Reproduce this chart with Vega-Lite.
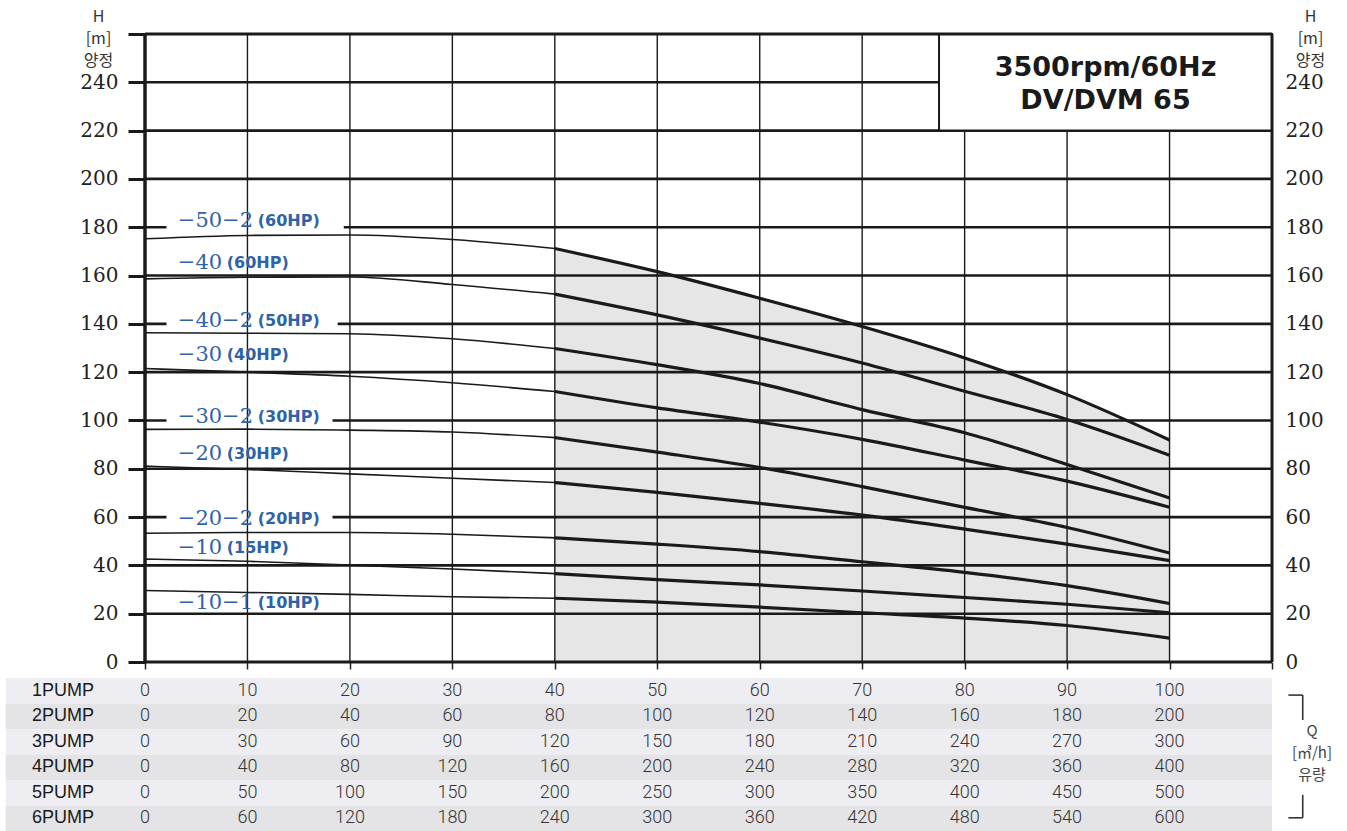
{
  "$schema": "https://vega.github.io/schema/vega-lite/v6.json",
  "width": 1127,
  "height": 628,
  "autosize": {"type": "none"},
  "padding": {"left": 145, "top": 34, "right": 75, "bottom": 169},
  "background": "white",
  "config": {
    "view": {"stroke": null},
    "axis": {"grid": false, "domain": false}
  },
  "datasets": {
    "curves": [
      {"model": "50-2", "q": 0, "h": 175.2}, {"model": "50-2", "q": 10, "h": 176.6}, {"model": "50-2", "q": 20, "h": 176.8}, {"model": "50-2", "q": 30, "h": 174.9}, {"model": "50-2", "q": 40, "h": 171.2}, {"model": "50-2", "q": 50, "h": 161.6}, {"model": "50-2", "q": 60, "h": 150.6}, {"model": "50-2", "q": 70, "h": 138.9}, {"model": "50-2", "q": 80, "h": 125.9}, {"model": "50-2", "q": 90, "h": 110.7}, {"model": "50-2", "q": 100, "h": 91.9},
      {"model": "40", "q": 0, "h": 158.6}, {"model": "40", "q": 10, "h": 159.3}, {"model": "40", "q": 20, "h": 159.4}, {"model": "40", "q": 30, "h": 156.3}, {"model": "40", "q": 40, "h": 152.3}, {"model": "40", "q": 50, "h": 143.7}, {"model": "40", "q": 60, "h": 134.1}, {"model": "40", "q": 70, "h": 123.8}, {"model": "40", "q": 80, "h": 112.1}, {"model": "40", "q": 90, "h": 100.4}, {"model": "40", "q": 100, "h": 85.6},
      {"model": "40-2", "q": 0, "h": 136.3}, {"model": "40-2", "q": 10, "h": 136.1}, {"model": "40-2", "q": 20, "h": 135.9}, {"model": "40-2", "q": 30, "h": 133.8}, {"model": "40-2", "q": 40, "h": 129.8}, {"model": "40-2", "q": 50, "h": 123.1}, {"model": "40-2", "q": 60, "h": 115.3}, {"model": "40-2", "q": 70, "h": 104.5}, {"model": "40-2", "q": 80, "h": 94.9}, {"model": "40-2", "q": 90, "h": 81.8}, {"model": "40-2", "q": 100, "h": 67.9},
      {"model": "30", "q": 0, "h": 121.5}, {"model": "30", "q": 10, "h": 120.0}, {"model": "30", "q": 20, "h": 118.3}, {"model": "30", "q": 30, "h": 115.6}, {"model": "30", "q": 40, "h": 112.0}, {"model": "30", "q": 50, "h": 105.2}, {"model": "30", "q": 60, "h": 99.3}, {"model": "30", "q": 70, "h": 92.2}, {"model": "30", "q": 80, "h": 83.6}, {"model": "30", "q": 90, "h": 74.9}, {"model": "30", "q": 100, "h": 64.1},
      {"model": "30-2", "q": 0, "h": 96.3}, {"model": "30-2", "q": 10, "h": 96.4}, {"model": "30-2", "q": 20, "h": 96.0}, {"model": "30-2", "q": 30, "h": 95.2}, {"model": "30-2", "q": 40, "h": 92.9}, {"model": "30-2", "q": 50, "h": 86.9}, {"model": "30-2", "q": 60, "h": 80.5}, {"model": "30-2", "q": 70, "h": 72.6}, {"model": "30-2", "q": 80, "h": 64.0}, {"model": "30-2", "q": 90, "h": 55.7}, {"model": "30-2", "q": 100, "h": 45.1},
      {"model": "20", "q": 0, "h": 81.1}, {"model": "20", "q": 10, "h": 79.7}, {"model": "20", "q": 20, "h": 77.9}, {"model": "20", "q": 30, "h": 76.1}, {"model": "20", "q": 40, "h": 74.3}, {"model": "20", "q": 50, "h": 70.2}, {"model": "20", "q": 60, "h": 65.7}, {"model": "20", "q": 70, "h": 60.8}, {"model": "20", "q": 80, "h": 55.0}, {"model": "20", "q": 90, "h": 48.8}, {"model": "20", "q": 100, "h": 42.0},
      {"model": "20-2", "q": 0, "h": 53.3}, {"model": "20-2", "q": 10, "h": 53.6}, {"model": "20-2", "q": 20, "h": 53.6}, {"model": "20-2", "q": 30, "h": 52.9}, {"model": "20-2", "q": 40, "h": 51.4}, {"model": "20-2", "q": 50, "h": 48.8}, {"model": "20-2", "q": 60, "h": 45.7}, {"model": "20-2", "q": 70, "h": 41.5}, {"model": "20-2", "q": 80, "h": 37.1}, {"model": "20-2", "q": 90, "h": 31.6}, {"model": "20-2", "q": 100, "h": 24.2},
      {"model": "10", "q": 0, "h": 42.6}, {"model": "10", "q": 10, "h": 41.7}, {"model": "10", "q": 20, "h": 40.1}, {"model": "10", "q": 30, "h": 38.5}, {"model": "10", "q": 40, "h": 36.6}, {"model": "10", "q": 50, "h": 34.1}, {"model": "10", "q": 60, "h": 31.9}, {"model": "10", "q": 70, "h": 29.4}, {"model": "10", "q": 80, "h": 26.7}, {"model": "10", "q": 90, "h": 23.9}, {"model": "10", "q": 100, "h": 20.4},
      {"model": "10-1", "q": 0, "h": 29.6}, {"model": "10-1", "q": 10, "h": 28.8}, {"model": "10-1", "q": 20, "h": 28.0}, {"model": "10-1", "q": 30, "h": 27.0}, {"model": "10-1", "q": 40, "h": 26.4}, {"model": "10-1", "q": 50, "h": 24.8}, {"model": "10-1", "q": 60, "h": 22.7}, {"model": "10-1", "q": 70, "h": 20.4}, {"model": "10-1", "q": 80, "h": 18.2}, {"model": "10-1", "q": 90, "h": 15.1}, {"model": "10-1", "q": 100, "h": 9.9}
    ],
    "labels": [
      {"model": "−50−2", "hp": " (60HP)", "q": 3.2, "h": 182.6},
      {"model": "−40", "hp": "(60HP)", "q": 3.2, "h": 165.0},
      {"model": "−40−2", "hp": "(50HP)", "q": 3.2, "h": 141.2},
      {"model": "−30", "hp": "(40HP)", "q": 3.2, "h": 127.0},
      {"model": "−30−2", "hp": "(30HP)", "q": 3.2, "h": 101.5},
      {"model": "−20", "hp": "(30HP)", "q": 3.2, "h": 86.1},
      {"model": "−20−2", "hp": "(20HP)", "q": 3.2, "h": 59.3},
      {"model": "−10", "hp": "(15HP)", "q": 3.2, "h": 47.3},
      {"model": "−10−1", "hp": "(10HP)", "q": 3.2, "h": 24.3}
    ],
    "gaps": [
      {"h": 180, "q0": 2.1, "q1": 19.4},
      {"h": 140, "q0": 2.1, "q1": 18.8},
      {"h": 100, "q0": 2.1, "q1": 18.3},
      {"h": 60, "q0": 2.1, "q1": 18.3}
    ],
    "hgrid": [{"h": 20}, {"h": 40}, {"h": 60}, {"h": 80}, {"h": 100}, {"h": 120}, {"h": 140}, {"h": 160}, {"h": 180}, {"h": 200}, {"h": 220}, {"h": 240}],
    "vgrid": [{"q": 10}, {"q": 20}, {"q": 30}, {"q": 40}, {"q": 50}, {"q": 60}, {"q": 70}, {"q": 80}, {"q": 90}, {"q": 100}],
    "table": [
      {"pump": "1PUMP", "n": 1, "q": 0, "flow": 0}, {"pump": "1PUMP", "n": 1, "q": 10, "flow": 10}, {"pump": "1PUMP", "n": 1, "q": 20, "flow": 20}, {"pump": "1PUMP", "n": 1, "q": 30, "flow": 30}, {"pump": "1PUMP", "n": 1, "q": 40, "flow": 40}, {"pump": "1PUMP", "n": 1, "q": 50, "flow": 50}, {"pump": "1PUMP", "n": 1, "q": 60, "flow": 60}, {"pump": "1PUMP", "n": 1, "q": 70, "flow": 70}, {"pump": "1PUMP", "n": 1, "q": 80, "flow": 80}, {"pump": "1PUMP", "n": 1, "q": 90, "flow": 90}, {"pump": "1PUMP", "n": 1, "q": 100, "flow": 100},
      {"pump": "2PUMP", "n": 2, "q": 0, "flow": 0}, {"pump": "2PUMP", "n": 2, "q": 10, "flow": 20}, {"pump": "2PUMP", "n": 2, "q": 20, "flow": 40}, {"pump": "2PUMP", "n": 2, "q": 30, "flow": 60}, {"pump": "2PUMP", "n": 2, "q": 40, "flow": 80}, {"pump": "2PUMP", "n": 2, "q": 50, "flow": 100}, {"pump": "2PUMP", "n": 2, "q": 60, "flow": 120}, {"pump": "2PUMP", "n": 2, "q": 70, "flow": 140}, {"pump": "2PUMP", "n": 2, "q": 80, "flow": 160}, {"pump": "2PUMP", "n": 2, "q": 90, "flow": 180}, {"pump": "2PUMP", "n": 2, "q": 100, "flow": 200},
      {"pump": "3PUMP", "n": 3, "q": 0, "flow": 0}, {"pump": "3PUMP", "n": 3, "q": 10, "flow": 30}, {"pump": "3PUMP", "n": 3, "q": 20, "flow": 60}, {"pump": "3PUMP", "n": 3, "q": 30, "flow": 90}, {"pump": "3PUMP", "n": 3, "q": 40, "flow": 120}, {"pump": "3PUMP", "n": 3, "q": 50, "flow": 150}, {"pump": "3PUMP", "n": 3, "q": 60, "flow": 180}, {"pump": "3PUMP", "n": 3, "q": 70, "flow": 210}, {"pump": "3PUMP", "n": 3, "q": 80, "flow": 240}, {"pump": "3PUMP", "n": 3, "q": 90, "flow": 270}, {"pump": "3PUMP", "n": 3, "q": 100, "flow": 300},
      {"pump": "4PUMP", "n": 4, "q": 0, "flow": 0}, {"pump": "4PUMP", "n": 4, "q": 10, "flow": 40}, {"pump": "4PUMP", "n": 4, "q": 20, "flow": 80}, {"pump": "4PUMP", "n": 4, "q": 30, "flow": 120}, {"pump": "4PUMP", "n": 4, "q": 40, "flow": 160}, {"pump": "4PUMP", "n": 4, "q": 50, "flow": 200}, {"pump": "4PUMP", "n": 4, "q": 60, "flow": 240}, {"pump": "4PUMP", "n": 4, "q": 70, "flow": 280}, {"pump": "4PUMP", "n": 4, "q": 80, "flow": 320}, {"pump": "4PUMP", "n": 4, "q": 90, "flow": 360}, {"pump": "4PUMP", "n": 4, "q": 100, "flow": 400},
      {"pump": "5PUMP", "n": 5, "q": 0, "flow": 0}, {"pump": "5PUMP", "n": 5, "q": 10, "flow": 50}, {"pump": "5PUMP", "n": 5, "q": 20, "flow": 100}, {"pump": "5PUMP", "n": 5, "q": 30, "flow": 150}, {"pump": "5PUMP", "n": 5, "q": 40, "flow": 200}, {"pump": "5PUMP", "n": 5, "q": 50, "flow": 250}, {"pump": "5PUMP", "n": 5, "q": 60, "flow": 300}, {"pump": "5PUMP", "n": 5, "q": 70, "flow": 350}, {"pump": "5PUMP", "n": 5, "q": 80, "flow": 400}, {"pump": "5PUMP", "n": 5, "q": 90, "flow": 450}, {"pump": "5PUMP", "n": 5, "q": 100, "flow": 500},
      {"pump": "6PUMP", "n": 6, "q": 0, "flow": 0}, {"pump": "6PUMP", "n": 6, "q": 10, "flow": 60}, {"pump": "6PUMP", "n": 6, "q": 20, "flow": 120}, {"pump": "6PUMP", "n": 6, "q": 30, "flow": 180}, {"pump": "6PUMP", "n": 6, "q": 40, "flow": 240}, {"pump": "6PUMP", "n": 6, "q": 50, "flow": 300}, {"pump": "6PUMP", "n": 6, "q": 60, "flow": 360}, {"pump": "6PUMP", "n": 6, "q": 70, "flow": 420}, {"pump": "6PUMP", "n": 6, "q": 80, "flow": 480}, {"pump": "6PUMP", "n": 6, "q": 90, "flow": 540}, {"pump": "6PUMP", "n": 6, "q": 100, "flow": 600}
    ]
  },
  "layer": [
    {
      "layer": [
        {
          "data": {"name": "curves"},
          "transform": [{"filter": "datum.model == '50-2' && datum.q >= 40"}],
          "mark": {"type": "area", "fill": "#e6e6e6", "interpolate": "monotone"},
          "encoding": {
            "x": {"field": "q", "type": "quantitative", "scale": {"domain": [0, 110], "nice": false}, "axis": null},
            "y": {"field": "h", "type": "quantitative", "scale": {"domain": [0, 260], "nice": false}, "axis": null}
          }
        },
        {
          "data": {"name": "hgrid"},
          "mark": {"type": "rule", "stroke": "#1a1a1a", "strokeWidth": 2.6},
          "encoding": {
            "y": {"field": "h", "type": "quantitative", "scale": {"domain": [0, 260], "nice": false}, "axis": null}
          }
        },
        {
          "data": {"name": "gaps"},
          "mark": {"type": "rule", "stroke": "white", "strokeWidth": 6},
          "encoding": {
            "x": {"field": "q0", "type": "quantitative", "scale": {"domain": [0, 110], "nice": false}, "axis": null},
            "x2": {"field": "q1"},
            "y": {"field": "h", "type": "quantitative", "scale": {"domain": [0, 260], "nice": false}, "axis": null}
          }
        },
        {
          "data": {"name": "vgrid"},
          "mark": {"type": "rule", "stroke": "#1a1a1a", "strokeWidth": 1.4},
          "encoding": {
            "x": {"field": "q", "type": "quantitative", "scale": {"domain": [0, 110], "nice": false}, "axis": null}
          }
        },
        {
          "data": {"values": [{}]},
          "mark": {"type": "rect", "fill": "white", "stroke": "#1a1a1a", "strokeWidth": 2},
          "encoding": {
            "x": {"datum": 77.5, "type": "quantitative", "scale": {"domain": [0, 110], "nice": false}, "axis": null},
            "x2": {"datum": 110},
            "y": {"datum": 260, "type": "quantitative", "scale": {"domain": [0, 260], "nice": false}, "axis": null},
            "y2": {"datum": 220}
          }
        },
        {
          "data": {"values": [{}]},
          "mark": {"type": "rule", "stroke": "#1a1a1a", "strokeWidth": 3},
          "encoding": {
            "y": {"datum": 0, "type": "quantitative", "scale": {"domain": [0, 260], "nice": false}, "axis": null}
          }
        },
        {
          "data": {"values": [{}]},
          "mark": {"type": "rule", "stroke": "#1a1a1a", "strokeWidth": 3},
          "encoding": {
            "y": {"datum": 260, "type": "quantitative", "scale": {"domain": [0, 260], "nice": false}, "axis": null}
          }
        },
        {
          "data": {"name": "curves"},
          "transform": [{"filter": "datum.q <= 40"}],
          "mark": {"type": "line", "stroke": "#1a1a1a", "strokeWidth": 1.6, "interpolate": "monotone"},
          "encoding": {
            "x": {"field": "q", "type": "quantitative", "scale": {"domain": [0, 110], "nice": false}, "axis": null},
            "y": {"field": "h", "type": "quantitative", "scale": {"domain": [0, 260], "nice": false}, "axis": null},
            "detail": {"field": "model"}
          }
        },
        {
          "data": {"name": "curves"},
          "transform": [{"filter": "datum.q >= 40"}],
          "mark": {"type": "line", "stroke": "#1a1a1a", "strokeWidth": 3.2, "interpolate": "monotone"},
          "encoding": {
            "x": {"field": "q", "type": "quantitative", "scale": {"domain": [0, 110], "nice": false}, "axis": null},
            "y": {"field": "h", "type": "quantitative", "scale": {"domain": [0, 260], "nice": false}, "axis": null},
            "detail": {"field": "model"}
          }
        },
        {
          "data": {"name": "labels"},
          "mark": {"type": "text", "align": "left", "baseline": "middle", "font": "DejaVu Serif", "fontSize": 21, "fill": "#2f63a8"},
          "encoding": {
            "x": {"field": "q", "type": "quantitative", "scale": {"domain": [0, 110], "nice": false}, "axis": null},
            "y": {"field": "h", "type": "quantitative", "scale": {"domain": [0, 260], "nice": false}, "axis": null},
            "text": {"field": "model"}
          }
        },
        {
          "data": {"name": "labels"},
          "transform": [{"filter": "length(datum.model) > 3"}],
          "mark": {"type": "text", "align": "left", "baseline": "middle", "dx": 80, "font": "DejaVu Sans", "fontWeight": "bold", "fontSize": 16, "fill": "#2f63a8"},
          "encoding": {
            "x": {"field": "q", "type": "quantitative", "scale": {"domain": [0, 110], "nice": false}, "axis": null},
            "y": {"field": "h", "type": "quantitative", "scale": {"domain": [0, 260], "nice": false}, "axis": null},
            "text": {"field": "hp"}
          }
        },
        {
          "data": {"name": "labels"},
          "transform": [{"filter": "length(datum.model) <= 3"}],
          "mark": {"type": "text", "align": "left", "baseline": "middle", "dx": 49, "font": "DejaVu Sans", "fontWeight": "bold", "fontSize": 16, "fill": "#2f63a8"},
          "encoding": {
            "x": {"field": "q", "type": "quantitative", "scale": {"domain": [0, 110], "nice": false}, "axis": null},
            "y": {"field": "h", "type": "quantitative", "scale": {"domain": [0, 260], "nice": false}, "axis": null},
            "text": {"field": "hp"}
          }
        },
        {
          "data": {"values": [{}]},
          "mark": {"type": "text", "align": "center", "baseline": "middle", "font": "DejaVu Sans", "fontWeight": "bold", "fontSize": 27, "lineHeight": 33, "fill": "#1a1a1a"},
          "encoding": {
            "x": {"datum": 93.75, "type": "quantitative", "scale": {"domain": [0, 110], "nice": false}, "axis": null},
            "y": {"datum": 245.8, "type": "quantitative", "scale": {"domain": [0, 260], "nice": false}, "axis": null},
            "text": {"value": ["3500rpm/60Hz", "DV/DVM 65"]}
          }
        },
        {
          "data": {"values": [{}]},
          "mark": {"type": "rule", "stroke": "#333", "strokeWidth": 1.6},
          "encoding": {
            "x": {"datum": 111.6, "type": "quantitative", "scale": {"domain": [0, 110], "nice": false}, "axis": null},
            "x2": {"datum": 113.0},
            "y": {"datum": -13.7, "type": "quantitative", "scale": {"domain": [0, 260], "nice": false}, "axis": null}
          }
        },
        {
          "data": {"values": [{}]},
          "mark": {"type": "rule", "stroke": "#333", "strokeWidth": 1.6},
          "encoding": {
            "x": {"datum": 113.0, "type": "quantitative", "scale": {"domain": [0, 110], "nice": false}, "axis": null},
            "y": {"datum": -13.7, "type": "quantitative", "scale": {"domain": [0, 260], "nice": false}, "axis": null},
            "y2": {"datum": -24.0}
          }
        },
        {
          "data": {"values": [{}]},
          "mark": {"type": "rule", "stroke": "#333", "strokeWidth": 1.6},
          "encoding": {
            "x": {"datum": 113.0, "type": "quantitative", "scale": {"domain": [0, 110], "nice": false}, "axis": null},
            "y": {"datum": -55.0, "type": "quantitative", "scale": {"domain": [0, 260], "nice": false}, "axis": null},
            "y2": {"datum": -64.5}
          }
        },
        {
          "data": {"values": [{}]},
          "mark": {"type": "rule", "stroke": "#333", "strokeWidth": 1.6},
          "encoding": {
            "x": {"datum": 111.6, "type": "quantitative", "scale": {"domain": [0, 110], "nice": false}, "axis": null},
            "x2": {"datum": 113.0},
            "y": {"datum": -64.5, "type": "quantitative", "scale": {"domain": [0, 260], "nice": false}, "axis": null}
          }
        },
        {
          "data": {"values": [{}]},
          "mark": {"type": "text", "align": "center", "baseline": "middle", "font": "Noto Sans CJK KR", "fontSize": 15, "lineHeight": 22, "fill": "#444"},
          "encoding": {
            "x": {"datum": 113.9, "type": "quantitative", "scale": {"domain": [0, 110], "nice": false}, "axis": null},
            "y": {"datum": -28.6, "type": "quantitative", "scale": {"domain": [0, 260], "nice": false}, "axis": null},
            "text": {"value": ["Q", "[㎥/h]", "유량"]}
          }
        }
      ]
    },
    {
      "data": {"values": [{}]},
      "mark": {"type": "rule", "stroke": "#1a1a1a", "strokeWidth": 3.5},
      "encoding": {
        "x": {"datum": 0, "type": "quantitative", "scale": {"domain": [0, 110], "nice": false},
          "axis": {"orient": "bottom", "values": [0, 10, 20, 30, 40, 50, 60, 70, 80, 90, 100, 110], "labels": false,
            "tickSize": 7, "tickWidth": 1.5, "tickColor": "#222", "title": null}},
        "y": {"datum": 0, "type": "quantitative", "scale": {"domain": [0, 260], "nice": false},
          "axis": {"orient": "left", "values": [0, 20, 40, 60, 80, 100, 120, 140, 160, 180, 200, 220, 240, 260],
            "labelExpr": "datum.value == 260 ? '' : datum.label",
            "tickSize": 17, "tickWidth": 3, "tickColor": "#1a1a1a", "labelPadding": 10,
            "labelFont": "DejaVu Serif", "labelFontSize": 20, "labelColor": "#222",
            "title": ["H", "[m]", "양정"], "titleFont": "Noto Sans CJK KR", "titleFontSize": 16, "titleFontWeight": "normal",
            "titleColor": "#333", "titleAngle": 0, "titleAlign": "center", "titleBaseline": "top",
            "titleX": -47, "titleY": -26, "titleLineHeight": 22}},
        "y2": {"datum": 260}
      }
    },
    {
      "data": {"values": [{}]},
      "mark": {"type": "rule", "stroke": "#1a1a1a", "strokeWidth": 3},
      "encoding": {
        "x": {"datum": 110, "type": "quantitative", "scale": {"domain": [0, 110], "nice": false}, "axis": null},
        "y": {"datum": 0, "type": "quantitative", "scale": {"domain": [0, 260], "nice": false},
          "axis": {"orient": "right", "values": [0, 20, 40, 60, 80, 100, 120, 140, 160, 180, 200, 220, 240],
            "ticks": false, "tickSize": 0, "labelPadding": 13,
            "labelFont": "DejaVu Serif", "labelFontSize": 20, "labelColor": "#222",
            "title": ["H", "[m]", "양정"], "titleFont": "Noto Sans CJK KR", "titleFontSize": 16, "titleFontWeight": "normal",
            "titleColor": "#333", "titleAngle": 0, "titleAlign": "center", "titleBaseline": "top",
            "titleX": 38, "titleY": -26, "titleLineHeight": 22}},
        "y2": {"datum": 260}
      }
    },
    {
      "data": {"name": "table"},
      "layer": [
        {
          "transform": [{"filter": "datum.q == 0"}],
          "mark": {"type": "rect"},
          "encoding": {
            "x": {"datum": -13.6, "type": "quantitative", "scale": {"domain": [0, 110], "nice": false}, "axis": null},
            "x2": {"datum": 110},
            "y": {"field": "pump", "type": "nominal", "scale": {"type": "band", "range": [644, 797], "paddingInner": 0, "paddingOuter": 0}, "axis": null},
            "fill": {"condition": {"test": "datum.n % 2 == 1", "value": "#ededf2"}, "value": "#e4e4e6"}
          }
        },
        {
          "transform": [{"filter": "datum.q == 0"}],
          "mark": {"type": "text", "align": "center", "baseline": "middle", "font": "Liberation Sans", "fontSize": 18, "fill": "#1a1a1a"},
          "encoding": {
            "x": {"datum": -8.0, "type": "quantitative", "scale": {"domain": [0, 110], "nice": false}, "axis": null},
            "y": {"field": "pump", "type": "nominal", "scale": {"type": "band", "range": [644, 797], "paddingInner": 0, "paddingOuter": 0}, "axis": null},
            "text": {"field": "pump"}
          }
        },
        {
          "mark": {"type": "text", "align": "center", "baseline": "middle", "font": "Roboto", "fontWeight": 300, "fontSize": 18, "fill": "#333"},
          "encoding": {
            "x": {"field": "q", "type": "quantitative", "scale": {"domain": [0, 110], "nice": false}, "axis": null},
            "y": {"field": "pump", "type": "nominal", "scale": {"type": "band", "range": [644, 797], "paddingInner": 0, "paddingOuter": 0}, "axis": null},
            "text": {"field": "flow"}
          }
        }
      ]
    }
  ],
  "resolve": {
    "scale": {"x": "independent", "y": "independent"},
    "axis": {"x": "independent", "y": "independent"}
  }
}
